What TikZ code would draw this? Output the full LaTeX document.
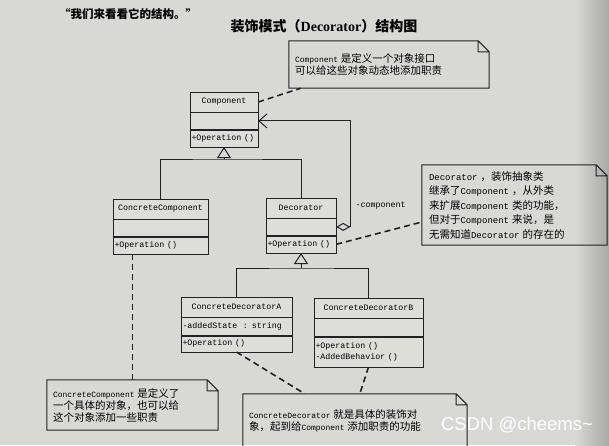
\documentclass[tikz,border=0pt]{standalone}
\usepackage{fontspec}
\usetikzlibrary{positioning, arrows.meta}
\newfontfamily\cjk{Noto Sans CJK SC}
\newfontfamily\codefont{Liberation Mono}
\newfontfamily\titlefont{Liberation Serif}
\newfontfamily\markfont{Liberation Sans}
\definecolor{paper}{HTML}{D8D9D4}
\definecolor{paperdark}{HTML}{A8A9A4}
\definecolor{boxfill}{HTML}{DDDED9}
\definecolor{ink}{HTML}{222222}
\newcommand{\zh}[1]{{\cjk\fontsize{10.5}{12}\selectfont #1}}
\newcommand{\noteframe}[1]{%
  \draw[noteline] (#1.north west) -- ([xshift=-11pt]#1.north east) -- ([yshift=-11pt]#1.north east)
    -- (#1.south east) -- (#1.south west) -- cycle
    ([xshift=-11pt]#1.north east) |- ([yshift=-11pt]#1.north east);}

\begin{document}
\begin{tikzpicture}[x=1pt, y=-1pt,
  cname/.style={draw=ink, fill=boxfill, font=\codefont\fontsize{8.3}{10}\selectfont,
                align=center, inner sep=0pt, minimum height=20pt},
  cpart/.style={draw=ink, fill=boxfill, font=\codefont\fontsize{8.3}{10.5}\selectfont,
                align=left, inner xsep=1.5pt, inner ysep=0pt, minimum height=17pt},
  note/.style={align=left, inner xsep=6pt, inner ysep=0pt,
               font=\codefont\fontsize{8}{12}\selectfont},
  noteline/.style={draw=ink, line width=1pt},
  line/.style={draw=ink, line width=1pt},
  gen/.style={line, -{Triangle[open, length=11pt, width=14pt]}},
  agg/.style={line, {Diamond[open, length=14pt, width=8pt]}-{Straight Barb[length=8pt, width=14pt]}},
  dep/.style={draw=ink, line width=1.6pt, dash pattern=on 6pt off 4pt},
  lbl/.style={font=\codefont\fontsize{8.3}{10}\selectfont, inner sep=0pt}
]
\useasboundingbox (0,0) rectangle (609,445);
\fill[paper] (0,0) rectangle (609,445);
\shade[left color=paper, right color=paperdark] (575,0) rectangle (609,445);

% headings
\node[font=\cjk\bfseries\fontsize{11.5}{13}\selectfont] (intro) at (128,14) {“我们来看看它的结构。”};
\node[font=\cjk\bfseries\fontsize{14}{16}\selectfont] (title) at (324,26)
  {装饰模式（{\titlefont\bfseries Decorator}）结构图};

% classes
\node[cname, text width=68pt] (compN) at (224,102) {Component};
\node[cpart, text width=65pt, below=0pt of compN] (compA) {};
\node[cpart, text width=65pt, below=0pt of compA] (compO) {+Operation ()};

\node[cname, text width=95pt] (ccN) at (160.5,209) {ConcreteComponent};
\node[cpart, text width=92pt, below=0pt of ccN] (ccA) {};
\node[cpart, text width=92pt, below=0pt of ccA] (ccO) {+Operation ()};

\node[cname, text width=70pt] (decN) at (301,208) {Decorator};
\node[cpart, text width=67pt, below=0pt of decN] (decA) {};
\node[cpart, text width=67pt, below=0pt of decA] (decO) {+Operation ()};

\node[cname, text width=111pt] (cdaN) at (236.5,307) {ConcreteDecoratorA};
\node[cpart, text width=108pt, minimum height=18pt, below=0pt of cdaN] (cdaA) {-addedState~~: string};
\node[cpart, text width=108pt, minimum height=16pt, below=0pt of cdaA] (cdaO) {+Operation ()};

\node[cname, text width=109pt] (cdbN) at (368.5,308) {ConcreteDecoratorB};
\node[cpart, text width=106pt, minimum height=18pt, below=0pt of cdbN] (cdbA) {};
\node[cpart, text width=106pt, minimum height=30pt, below=0pt of cdbA] (cdbO) {+Operation ()\\-AddedBehavior ()};

% notes
\node[note, text width=188pt, minimum height=47pt] (cmpNote) at (389,64.5)
  {Component \zh{是定义一个对象接口}\\\zh{可以给这些对象动态地添加职责}};
\node[note, text width=171pt, inner xsep=7pt, minimum height=80pt,
      font=\codefont\fontsize{9}{14.5}\selectfont] (decNote) at (514.5,205)
  {Decorator \zh{，装饰抽象类}\\\zh{继承了}Component \zh{，从外类}\\\zh{来扩展}Component \zh{类的功能，}\\%
   \zh{但对于}Component \zh{来说，是}\\\zh{无需知道}Decorator \zh{的存在的}};
\node[note, text width=159pt, minimum height=50pt] (ccNote) at (132.5,405)
  {ConcreteComponent \zh{是定义了}\\\zh{一个具体的对象，也可以给}\\\zh{这个对象添加一些职责}};
\node[note, text width=212pt, minimum height=54pt] (cdNote) at (355,421)
  {ConcreteDecorator \zh{就是具体的装饰对}\\\zh{象，起到给}Component \zh{添加职责的功能}};
\noteframe{cmpNote}
\noteframe{decNote}
\noteframe{ccNote}
\noteframe{cdNote}

% relations
\coordinate (genTop) at (224,159);
\coordinate (genDec) at (301,268);
\draw[line] (ccN.north) |- (genTop) -| (decN.north);
\draw[gen] (genTop) -- (compO.south);
\draw[line] (cdaN.north) |- (genDec) -| (cdbN.north);
\draw[gen] (genDec) -- (decO.south);
\draw[agg] (decA.east) -- ++(14,0) |- (compA.east) node[pos=0.1, right=5pt, lbl] {-component};

\draw[dep] (compN.east) -- ([xshift=12pt]cmpNote.south west);
\draw[dep] (decO.east) -- ([yshift=-17pt]decNote.west);
\draw[dep] (ccNote.north |- ccO.south) -- (ccNote.north);
\draw[dep] (cdaO.south) -- ([xshift=62pt]cdNote.north west);
\draw[dep] (cdbO.south) -- ([xshift=117pt]cdNote.north west);

\node[font=\markfont\fontsize{18.5}{20}\selectfont, text=white] (mark) at (517,425) {CSDN @cheems\textasciitilde};
\end{tikzpicture}
\end{document}
